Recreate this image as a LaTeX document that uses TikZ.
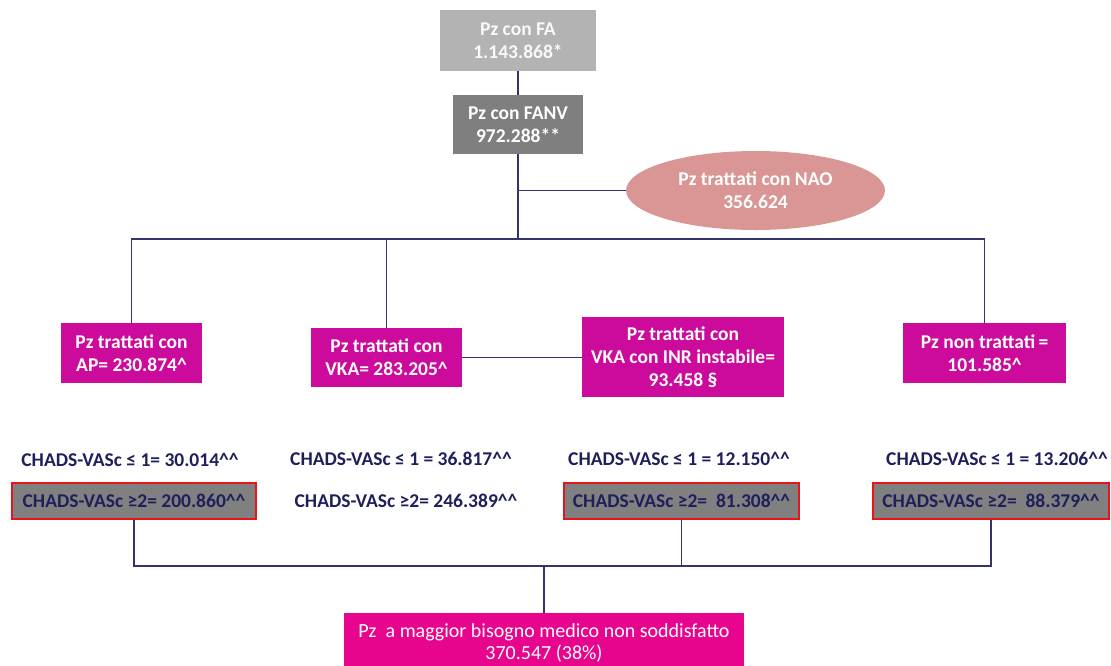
\documentclass[tikz,border=0pt]{standalone}
\usepackage{fontspec}
\setmainfont{Carlito}
\usetikzlibrary{shapes.geometric}
\definecolor{mag}{HTML}{CC0A9C}
\definecolor{magbright}{HTML}{E6058C}
\definecolor{fagray}{HTML}{B3B3B3}
\definecolor{fanvgray}{HTML}{7F7F7F}
\definecolor{chgray}{HTML}{808080}
\definecolor{naorose}{HTML}{D99694}
\definecolor{navy}{HTML}{1F1F5C}
\definecolor{linec}{HTML}{33336E}
\definecolor{redb}{HTML}{E8141C}
\newcommand\ca{\textasciicircum}
\begin{document}
\begin{tikzpicture}[x=1pt,y=-1pt,
  box/.style={rectangle, inner sep=0pt, align=center, text=white,
    font=\fontsize{19.5}{23}\selectfont\bfseries},
  magbox/.style={box, fill=mag},
  chads/.style={inner sep=0pt, text=navy, font=\fontsize{19.5}{23}\selectfont\bfseries},
  chbox/.style={chads, fill=chgray, draw=redb, line width=2.5pt},
  link/.style={draw=linec, line width=1.5pt}]
\useasboundingbox (0,0) rectangle (1111,665);
\clip (0,0) rectangle (1111,665);

\node[box, fill=fagray, text=white!95!gray, minimum width=156pt, minimum height=61pt] (FA) at (518,40.5) {Pz con FA\\1.143.868*};
\node[box, fill=fanvgray, minimum width=130pt, minimum height=59pt] (FANV) at (518,124.5) {Pz con FANV\\972.288**};
\node[box, ellipse, fill=naorose, minimum width=259pt, minimum height=79pt] (NAO) at (755.5,190.5) {Pz trattati con NAO\\356.624};

\node[magbox, minimum width=141pt, minimum height=60pt] (AP) at (131.5,353) {Pz trattati con\\AP= 230.874\ca};
\node[magbox, minimum width=151pt, minimum height=59pt] (VKA) at (386.5,357.5) {Pz trattati con\\VKA=\ 283.205\ca};
\node[magbox, minimum width=202pt, minimum height=80pt] (INR) at (683,357) {Pz trattati con\\VKA con INR instabile=\\93.458 §};
\node[magbox, minimum width=163pt, minimum height=60pt] (NON) at (984.5,353) {Pz non trattati\,=\\101.585\ca};

\node[chads] (T1) at (130,460) {CHADS-VASc ≤ 1= 30.014\ca\ca};
\node[chads] (T2) at (401,459) {CHADS-VASc ≤ 1 = 36.817\ca\ca};
\node[chads] (T3) at (679,459) {CHADS-VASc ≤ 1 = 12.150\ca\ca};
\node[chads] (T4) at (997,459) {CHADS-VASc ≤ 1 = 13.206\ca\ca};

\node[chbox, minimum width=244pt, minimum height=36pt] (B1) at (134,501) {CHADS-VASc ≥2= 200.860\ca\ca};
\node[chads] (B2) at (406,501) {CHADS-VASc ≥2= 246.389\ca\ca};
\node[chbox, minimum width=235pt, minimum height=36pt] (B3) at (681.5,501) {CHADS-VASc ≥2=\ \ 81.308\ca\ca};
\node[chbox, minimum width=236pt, minimum height=36pt] (B4) at (991,501) {CHADS-VASc ≥2=\ \ 88.379\ca\ca};

\node[box, fill=magbright, font=\fontsize{20}{22}\selectfont, minimum width=400pt, minimum height=60pt, anchor=north] (BOT) at (544,613) {Pz\ \ a maggior bisogno medico non soddisfatto\\370.547 (38\%)};

\coordinate (bus) at (0,239);
\coordinate (bus2) at (0,566);

\draw[link] (FA.south) -- (FANV.north);
\draw[link] (FANV.south) -- (FANV.south |- bus);
\draw[link] (FANV.south |- NAO.west) -- (NAO.west);
\draw[link] (AP.north) -- (AP.north |- bus) -- (NON.north |- bus) -- (NON.north);
\draw[link] (VKA.north) -- (VKA.north |- bus);
\draw[link] (VKA.east) -- (VKA.east -| INR.west);

\draw[link] (B1.south) -- (B1.south |- bus2) -- (B4.south |- bus2) -- (B4.south);
\draw[link] (B3.south) -- (B3.south |- bus2);
\draw[link] (BOT.north) -- (BOT.north |- bus2);
\end{tikzpicture}
\end{document}
